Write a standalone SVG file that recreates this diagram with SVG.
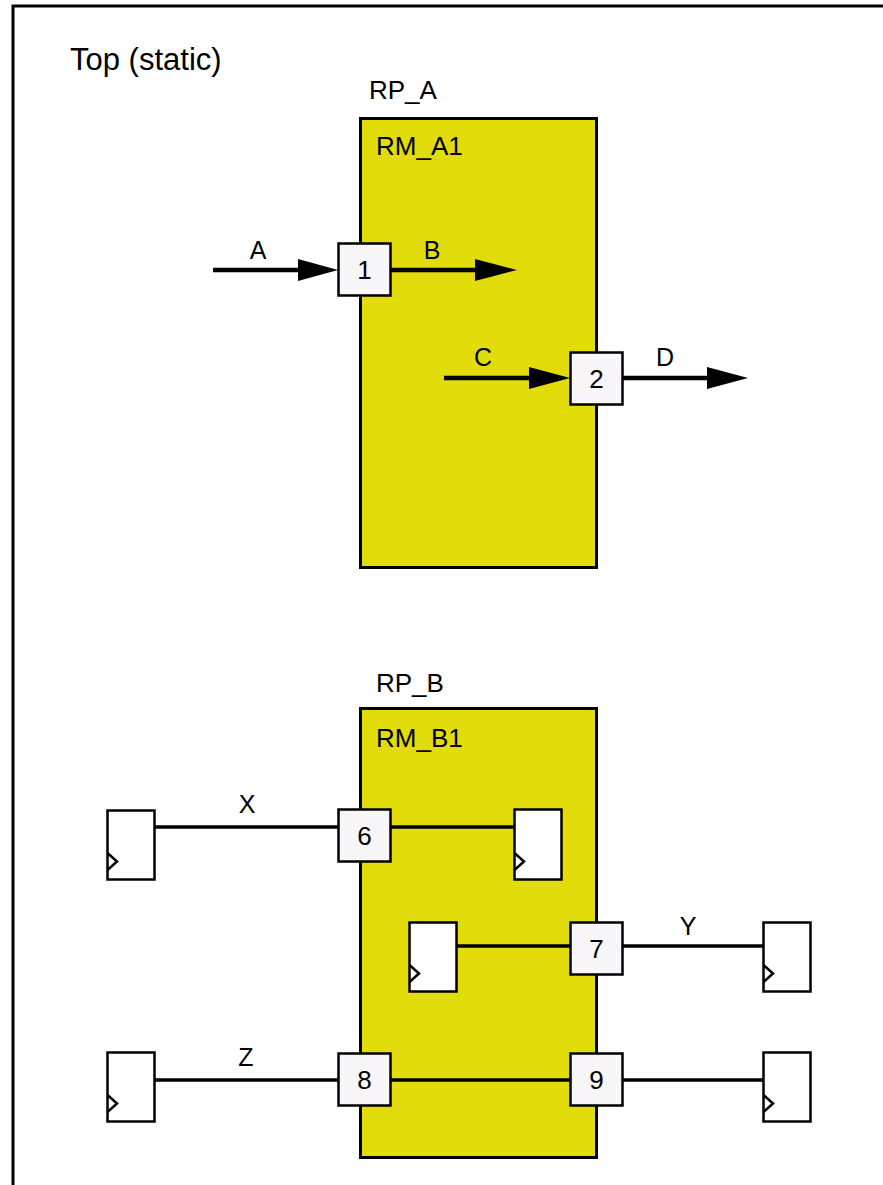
<svg xmlns="http://www.w3.org/2000/svg" width="883" height="1185" viewBox="0 0 883 1185">
<style>
text{font-family:"Liberation Sans",Arial,Helvetica,sans-serif;fill:#000}
.t{font-size:26px}
.title{font-size:31px}
.num{font-size:26px;text-anchor:middle}
.lbl{font-size:25px;text-anchor:middle}
.rp{fill:#E1DC0A;stroke:#000;stroke-width:3}
.port{fill:#F8F6F8;stroke:#000;stroke-width:2.5}
.ff{fill:#fff;stroke:#000;stroke-width:2.5}
.clk{fill:none;stroke:#000;stroke-width:2.5}
.arr{stroke:#000;stroke-width:4.5;fill:none}
.wire{stroke:#000;stroke-width:3.5;fill:none}
.head{fill:#000}
</style>
<rect width="883" height="1185" fill="#fff"/>
<g id="frame">
<path d="M13,1185 V6 H883" fill="none" stroke="#000" stroke-width="3"/>
<text class="title" x="70" y="70">Top (static)</text>
</g>
<g id="RP_A">
<text class="t" x="369" y="99">RP_A</text>
<rect class="rp" x="360.5" y="118.5" width="236" height="449"/>
<text class="t" x="376" y="155">RM_A1</text>
</g>
<g id="RP_B">
<text class="t" x="376" y="692">RP_B</text>
<rect class="rp" x="360.5" y="708.5" width="236" height="449"/>
<text class="t" x="376" y="747">RM_B1</text>
</g>
<g id="connectors">
<line class="arr" x1="213" y1="270" x2="300" y2="270"/>
<polygon class="head" points="298,259 338,270 298,281"/>
<line class="arr" x1="391" y1="270" x2="478" y2="270"/>
<polygon class="head" points="475,259 517,270 475,281"/>
<line class="arr" x1="444" y1="378" x2="531" y2="378"/>
<polygon class="head" points="529,367 570,378 529,389"/>
<line class="arr" x1="623" y1="378" x2="710" y2="378"/>
<polygon class="head" points="707,367 748,378 707,389"/>
<line class="wire" x1="155" y1="827" x2="338" y2="827"/>
<line class="wire" x1="391" y1="827" x2="514" y2="827"/>
<line class="wire" x1="457" y1="946" x2="570" y2="946"/>
<line class="wire" x1="622" y1="946" x2="763" y2="946"/>
<line class="wire" x1="155" y1="1080" x2="338" y2="1080"/>
<line class="wire" x1="391" y1="1080" x2="570" y2="1080"/>
<line class="wire" x1="623" y1="1080" x2="763" y2="1080"/>
<text class="lbl" x="258" y="259">A</text>
<text class="lbl" x="432" y="259">B</text>
<text class="lbl" x="483" y="366">C</text>
<text class="lbl" x="665" y="366">D</text>
<text class="lbl" x="247" y="813">X</text>
<text class="lbl" x="688" y="935">Y</text>
<text class="lbl" x="246" y="1066">Z</text>
</g>
<g id="port1"><rect class="port" x="338.5" y="243.5" width="52" height="52"/><text class="num" x="364.5" y="278.5">1</text></g>
<g id="port2"><rect class="port" x="570.5" y="352.5" width="52" height="52"/><text class="num" x="596.5" y="387.5">2</text></g>
<g id="port6"><rect class="port" x="338.5" y="809.5" width="52" height="52"/><text class="num" x="364.5" y="844.5">6</text></g>
<g id="port7"><rect class="port" x="570.5" y="922.5" width="52" height="52"/><text class="num" x="596.5" y="957.5">7</text></g>
<g id="port8"><rect class="port" x="338.5" y="1053.5" width="52" height="52"/><text class="num" x="364.5" y="1088.5">8</text></g>
<g id="port9"><rect class="port" x="570.5" y="1053.5" width="52" height="52"/><text class="num" x="596.5" y="1088.5">9</text></g>
<g id="ff1"><rect class="ff" x="107.5" y="810.5" width="47" height="69"/><polyline class="clk" points="107.5,853 117,861.5 107.5,870"/></g>
<g id="ff2"><rect class="ff" x="514.5" y="809.5" width="47" height="70"/><polyline class="clk" points="514.5,853 524,861.5 514.5,870"/></g>
<g id="ff3"><rect class="ff" x="409.5" y="922.5" width="47" height="69"/><polyline class="clk" points="409.5,965 419,973.5 409.5,982"/></g>
<g id="ff4"><rect class="ff" x="763.5" y="922.5" width="47" height="69"/><polyline class="clk" points="763.5,965 773,973.5 763.5,982"/></g>
<g id="ff5"><rect class="ff" x="107.5" y="1052.5" width="47" height="69"/><polyline class="clk" points="107.5,1095 117,1103.5 107.5,1112"/></g>
<g id="ff6"><rect class="ff" x="763.5" y="1052.5" width="47" height="69"/><polyline class="clk" points="763.5,1095 773,1103.5 763.5,1112"/></g>
</svg>
